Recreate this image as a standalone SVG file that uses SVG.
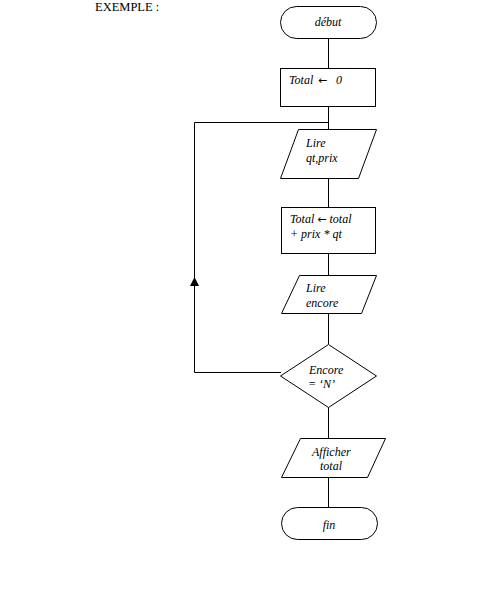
<svg xmlns="http://www.w3.org/2000/svg" width="494" height="610" viewBox="0 0 494 610">
<style>
.s{fill:#fff;stroke:#000;stroke-width:1}
.c{fill:none;stroke:#000;stroke-width:1}
.t{font-family:"Liberation Serif","Times New Roman",serif;font-size:12px;font-style:italic;fill:#000}
.h{font-family:"Liberation Serif","Times New Roman",serif;font-size:12.5px;fill:#000}
.a{font-family:"DejaVu Sans",sans-serif;font-style:normal;font-size:11px}
</style>
<rect width="494" height="610" fill="#fff"/>
<text class="h" x="95" y="11">EXEMPLE :</text>
<g id="connectors">
<line class="c" x1="328.5" y1="38" x2="328.5" y2="68"/>
<line class="c" x1="328.5" y1="106" x2="328.5" y2="129"/>
<line class="c" x1="328.5" y1="178" x2="328.5" y2="207"/>
<line class="c" x1="328.5" y1="253" x2="328.5" y2="275"/>
<line class="c" x1="328.5" y1="313" x2="328.5" y2="344"/>
<line class="c" x1="328.5" y1="407" x2="328.5" y2="438"/>
<line class="c" x1="328.5" y1="477" x2="328.5" y2="507"/>
<polyline class="c" points="281,372.5 194.5,372.5 194.5,122.5 328.5,122.5"/>
<path d="M194.5,277 L190,286 L199,286 Z" fill="#000"/>
</g>
<g id="debut">
<rect class="s" x="280.5" y="6.5" width="96" height="32" rx="16"/>
<text class="t" x="328" y="26" text-anchor="middle">début</text>
</g>
<g id="init">
<rect class="s" x="280.5" y="68.5" width="95" height="38"/>
<text class="t" x="289" y="84">Total <tspan class="a" x="318">←</tspan><tspan x="336">0</tspan></text>
</g>
<g id="lire1">
<polygon class="s" points="298.5,129.5 376.5,129.5 358.5,178.5 280.5,178.5"/>
<text class="t" x="306" y="147">Lire</text>
<text class="t" x="306" y="162">qt,prix</text>
</g>
<g id="calc">
<rect class="s" x="281.5" y="207.5" width="94" height="46"/>
<text class="t" x="290" y="223">Total <tspan class="a">←</tspan> total</text>
<text class="t" x="290" y="238">+ prix * qt</text>
</g>
<g id="lire2">
<polygon class="s" points="299.5,275.5 376.5,275.5 361.5,313.5 281.5,313.5"/>
<text class="t" x="306" y="292">Lire</text>
<text class="t" x="306" y="307">encore</text>
</g>
<g id="test">
<polygon class="s" points="328.5,344.5 376.5,376 328.5,407.5 280.5,376"/>
<text class="t" x="309" y="374" font-size="10.5">Encore</text>
<text class="t" x="308" y="388" font-size="10.5">= ‘N’</text>
</g>
<g id="afficher">
<polygon class="s" points="300.5,438.5 385.5,438.5 367.5,477.5 281.5,477.5"/>
<text class="t" x="312" y="456">Afficher</text>
<text class="t" x="320" y="470">total</text>
</g>
<g id="fin">
<rect class="s" x="281.5" y="507.5" width="96" height="32" rx="16"/>
<text class="t" x="329" y="529" text-anchor="middle">fin</text>
</g>
</svg>
